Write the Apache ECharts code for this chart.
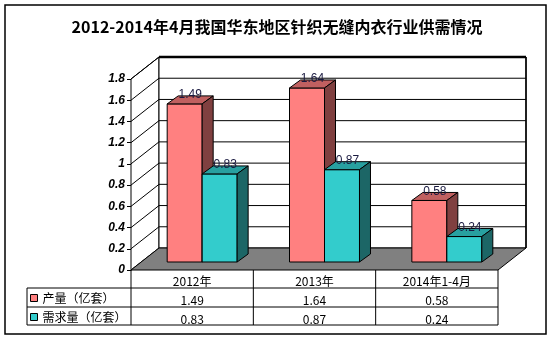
<!DOCTYPE html>
<html><head><meta charset="utf-8">
<script src="https://cdn.jsdelivr.net/npm/echarts@6/dist/echarts.min.js"></script>
<style>html,body{margin:0;padding:0;background:#fff}#c{width:554px;height:341px}</style>
</head><body><div id="c"></div>
<script>
const titleText = '2012-2014年4月我国华东地区针织无缝内衣行业供需情况';
const categories = ['2012年', '2013年', '2014年1-4月'];
const seriesNames = ['产量（亿套）', '需求量（亿套）'];
const production = [1.49, 1.64, 0.58];
const demand = [0.83, 0.87, 0.24];
const tickValues = [0, 0.2, 0.4, 0.6, 0.8, 1, 1.2, 1.4, 1.6, 1.8];
const yMax = 1.8, yStep = 0.2;

const CJK = '"Noto Sans CJK SC", "Noto Sans", sans-serif';
const WALL_DX = 28, WALL_DY = -22;
const BAR_SX = 10, BAR_SY = -8, BAR_DX = 11, BAR_DY = -8, BAR_FRAC = 0.286;
const faces = [
  { front: '#FF8080', top: '#C06060', side: '#804040' },
  { front: '#33CCCC', top: '#28A0A0', side: '#1C6666' }
];
const ROW1 = 18, ROW2 = 37, TABLE_LEFT = 27;

function wallsRender(params, api) {
  const cs = params.coordSys;
  const x0 = cs.x, x1 = cs.x + cs.width, yb = cs.y + cs.height;
  const yt = api.coord([0, yMax])[1];
  const ch = [];
  const st = { stroke: '#000', lineWidth: 1 };
  ch.push({ type: 'polygon', shape: { points: [[x0, yt], [x0 + WALL_DX, yt + WALL_DY], [x0 + WALL_DX, yb + WALL_DY], [x0, yb]] }, style: { fill: '#fff', stroke: '#000', lineWidth: 1 } });
  ch.push({ type: 'rect', shape: { x: x0 + WALL_DX, y: yt + WALL_DY, width: x1 - x0, height: yb - yt }, style: { fill: '#fff', stroke: '#000', lineWidth: 1 } });
  tickValues.forEach(v => {
    if (v === 0) return;
    const y = api.coord([0, v])[1];
    ch.push({ type: 'polyline', shape: { points: [[x0, y], [x0 + WALL_DX, y + WALL_DY], [x1 + WALL_DX, y + WALL_DY]] }, style: { fill: null, stroke: '#000', lineWidth: 1 } });
  });
  ch.push({ type: 'line', shape: { x1: x0 + WALL_DX, y1: yt + WALL_DY, x2: x1 + WALL_DX, y2: yt + WALL_DY }, style: { stroke: '#000', lineWidth: 2.5 } });
  ch.push({ type: 'line', shape: { x1: x1 + WALL_DX, y1: yt + WALL_DY, x2: x1 + WALL_DX, y2: yb + WALL_DY }, style: { stroke: '#000', lineWidth: 1.5 } });
  ch.push({ type: 'polygon', shape: { points: [[x0, yb], [x1, yb], [x1 + WALL_DX, yb + WALL_DY], [x0 + WALL_DX, yb + WALL_DY]] }, style: { fill: '#808080', stroke: '#000', lineWidth: 1 } });
  // data table lines
  const catW = api.size([1, 0])[0];
  const r1 = yb + ROW1, r2 = yb + ROW2, r3 = yb + ROW2 + 18;
  [r1, r2, r3].forEach(y => ch.push({ type: 'line', shape: { x1: TABLE_LEFT, y1: y, x2: x1, y2: y }, style: st }));
  for (let k = 0; k <= categories.length; k++) {
    const x = x0 + k * catW;
    ch.push({ type: 'line', shape: { x1: x, y1: yb, x2: x, y2: r3 }, style: st });
  }
  ch.push({ type: 'line', shape: { x1: TABLE_LEFT, y1: r1, x2: TABLE_LEFT, y2: r3 }, style: st });
  return { type: 'group', children: ch };
}

function barRender(s) {
  return function (params, api) {
    const i = api.value(0), v = api.value(1);
    const c = api.coord([i, v]), c0 = api.coord([i, 0]);
    const catW = api.size([1, 0])[0];
    const bw = catW * BAR_FRAC;
    const fx = c[0] - bw + s * bw + BAR_SX;
    const yT = c[1] + BAR_SY, yB = c0[1] + BAR_SY;
    const f = faces[s];
    const bs = { stroke: '#000', lineWidth: 1 };
    return {
      type: 'group', children: [
        { type: 'rect', shape: { x: fx, y: yT, width: bw, height: yB - yT }, style: Object.assign({ fill: f.front }, bs) },
        { type: 'polygon', shape: { points: [[fx, yT], [fx + BAR_DX, yT + BAR_DY], [fx + bw + BAR_DX, yT + BAR_DY], [fx + bw, yT]] }, style: Object.assign({ fill: f.top }, bs) },
        { type: 'polygon', shape: { points: [[fx + bw, yT], [fx + bw + BAR_DX, yT + BAR_DY], [fx + bw + BAR_DX, yB + BAR_DY], [fx + bw, yB]] }, style: Object.assign({ fill: f.side }, bs) },
        { type: 'text', style: { text: v.toFixed(2), x: fx + bw / 2 + BAR_DX / 2, y: yT - 9, align: 'center', verticalAlign: 'middle', font: '12px "Liberation Sans", Arial, sans-serif', fill: '#1a1a40' } }
      ]
    };
  };
}

const chart = echarts.init(document.getElementById('c'), null, { renderer: 'canvas' });
const tableLabel = { margin: 5, fontSize: 12, color: '#000', fontFamily: CJK, interval: 0 };
chart.setOption({
  animation: false,
  title: { text: titleText, left: 'center', top: 14, textStyle: { fontSize: 16, fontWeight: 'bold', color: '#000', fontFamily: CJK } },
  legend: {
    data: seriesNames, orient: 'vertical', left: 30, top: 291, padding: 0, itemWidth: 7, itemHeight: 7, itemGap: 5, icon: 'rect', selectedMode: false,
    itemStyle: { borderColor: '#000', borderWidth: 1 },
    textStyle: { fontSize: 12, color: '#000', fontFamily: CJK, lineHeight: 14 }
  },
  grid: { left: 131, right: 56, top: 79, bottom: 71 },
  xAxis: [
    { type: 'category', data: categories, position: 'bottom', axisLine: { show: false }, axisTick: { show: false }, axisLabel: tableLabel },
    { type: 'category', data: production.map(v => v.toFixed(2)), position: 'bottom', offset: ROW1 + 1, axisLine: { show: false }, axisTick: { show: false }, axisLabel: tableLabel },
    { type: 'category', data: demand.map(v => v.toFixed(2)), position: 'bottom', offset: ROW2 + 1, axisLine: { show: false }, axisTick: { show: false }, axisLabel: tableLabel }
  ],
  yAxis: {
    type: 'value', min: 0, max: yMax, interval: yStep,
    axisLine: { show: true, lineStyle: { color: '#000', width: 1 } },
    axisTick: { show: true, length: 4, lineStyle: { color: '#000' } },
    splitLine: { show: false },
    axisLabel: { fontSize: 12, fontWeight: 'bold', fontStyle: 'italic', color: '#000', margin: 6, fontFamily: '"Liberation Sans", Arial, sans-serif' }
  },
  series: [
    { type: 'custom', name: 'walls', renderItem: wallsRender, data: [[0, 0]], encode: { x: 0, y: 1 }, silent: true },
    { type: 'custom', name: seriesNames[0], renderItem: barRender(0), data: production.map((v, i) => [i, v]), encode: { x: 0, y: 1 }, itemStyle: { color: faces[0].front, borderColor: '#000', borderWidth: 1 } },
    { type: 'custom', name: seriesNames[1], renderItem: barRender(1), data: demand.map((v, i) => [i, v]), encode: { x: 0, y: 1 }, itemStyle: { color: faces[1].front, borderColor: '#000', borderWidth: 1 } }
  ],
  graphic: [
    { type: 'rect', shape: { x: 5, y: 5, width: 541, height: 329 }, style: { fill: 'none', stroke: '#000', lineWidth: 1.5 }, silent: true }
  ]
});
</script></body></html>
